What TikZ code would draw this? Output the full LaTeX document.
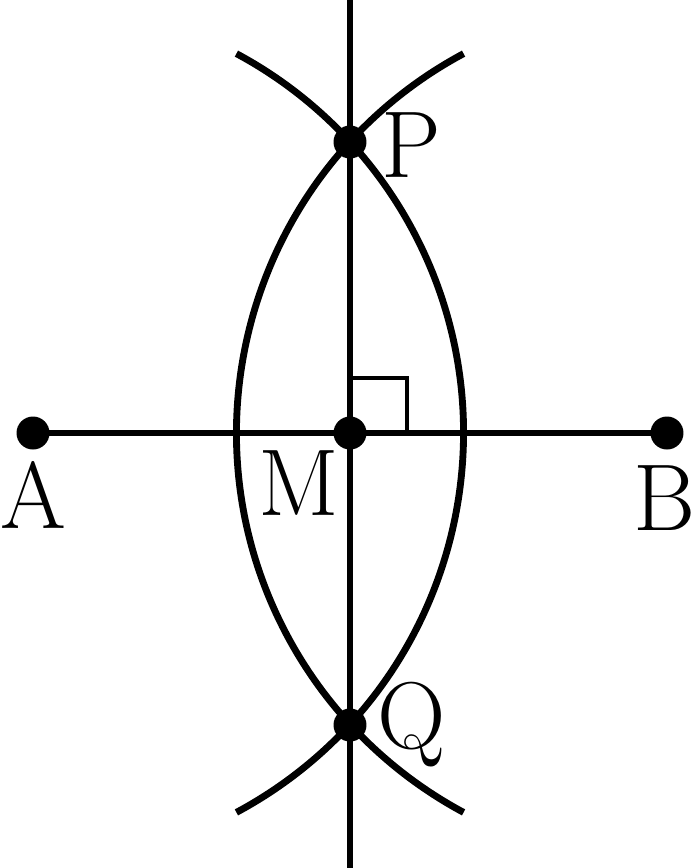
\documentclass[tikz,border=0pt]{standalone}
\usepackage[dvipsnames]{xcolor}
\usepackage{tikz}

\tikzset{
  geo/.style={line width=1.95pt,color=black},
  tick/.style={line width=1.05pt,color=black},
  lbl/.style={anchor=base,inner sep=0pt,font=\fontsize{27}{32}\selectfont}
}

\begin{document}
\begin{tikzpicture}
\useasboundingbox (0,0) rectangle (6.97,-8.68);
\coordinate (A) at (.33,-4.33);
\coordinate (B) at (6.67,-4.33);
\coordinate (M) at (3.50,-4.33);
\coordinate (P) at (3.50,-1.42);
\coordinate (Q) at (3.50,-7.25);
\coordinate (top) at (3.50,0);
\coordinate (bot) at (3.50,-8.68);
\draw[geo] (A) -- (B);
\draw[geo] (top) -- (bot);
% arcs from A and B
\draw[geo] (A) ++(-61.8:4.305) arc[start angle=-61.8,end angle=61.8,radius=4.305];
\draw[geo] (B) ++(118.2:4.305) arc[start angle=118.2,end angle=241.8,radius=4.305];
% right angle
\draw[tick] (M) ++(0,.55) -| ++(.57,-.55);
\fill (A) circle (.165); \fill (B) circle (.165); \fill (M) circle (.165);
\fill (P) circle (.165); \fill (Q) circle (.165);
\node[lbl] (lA) at (.33,-5.28) {A};
\node[lbl] (lB) at (6.65,-5.30) {B};
\node[lbl] (lM) at (2.99,-5.15) {M};
\node[lbl] (lP) at (4.11,-1.77) {P};
\node[lbl] (lQ) at (4.12,-7.48) {Q};
\end{tikzpicture}
\end{document}
